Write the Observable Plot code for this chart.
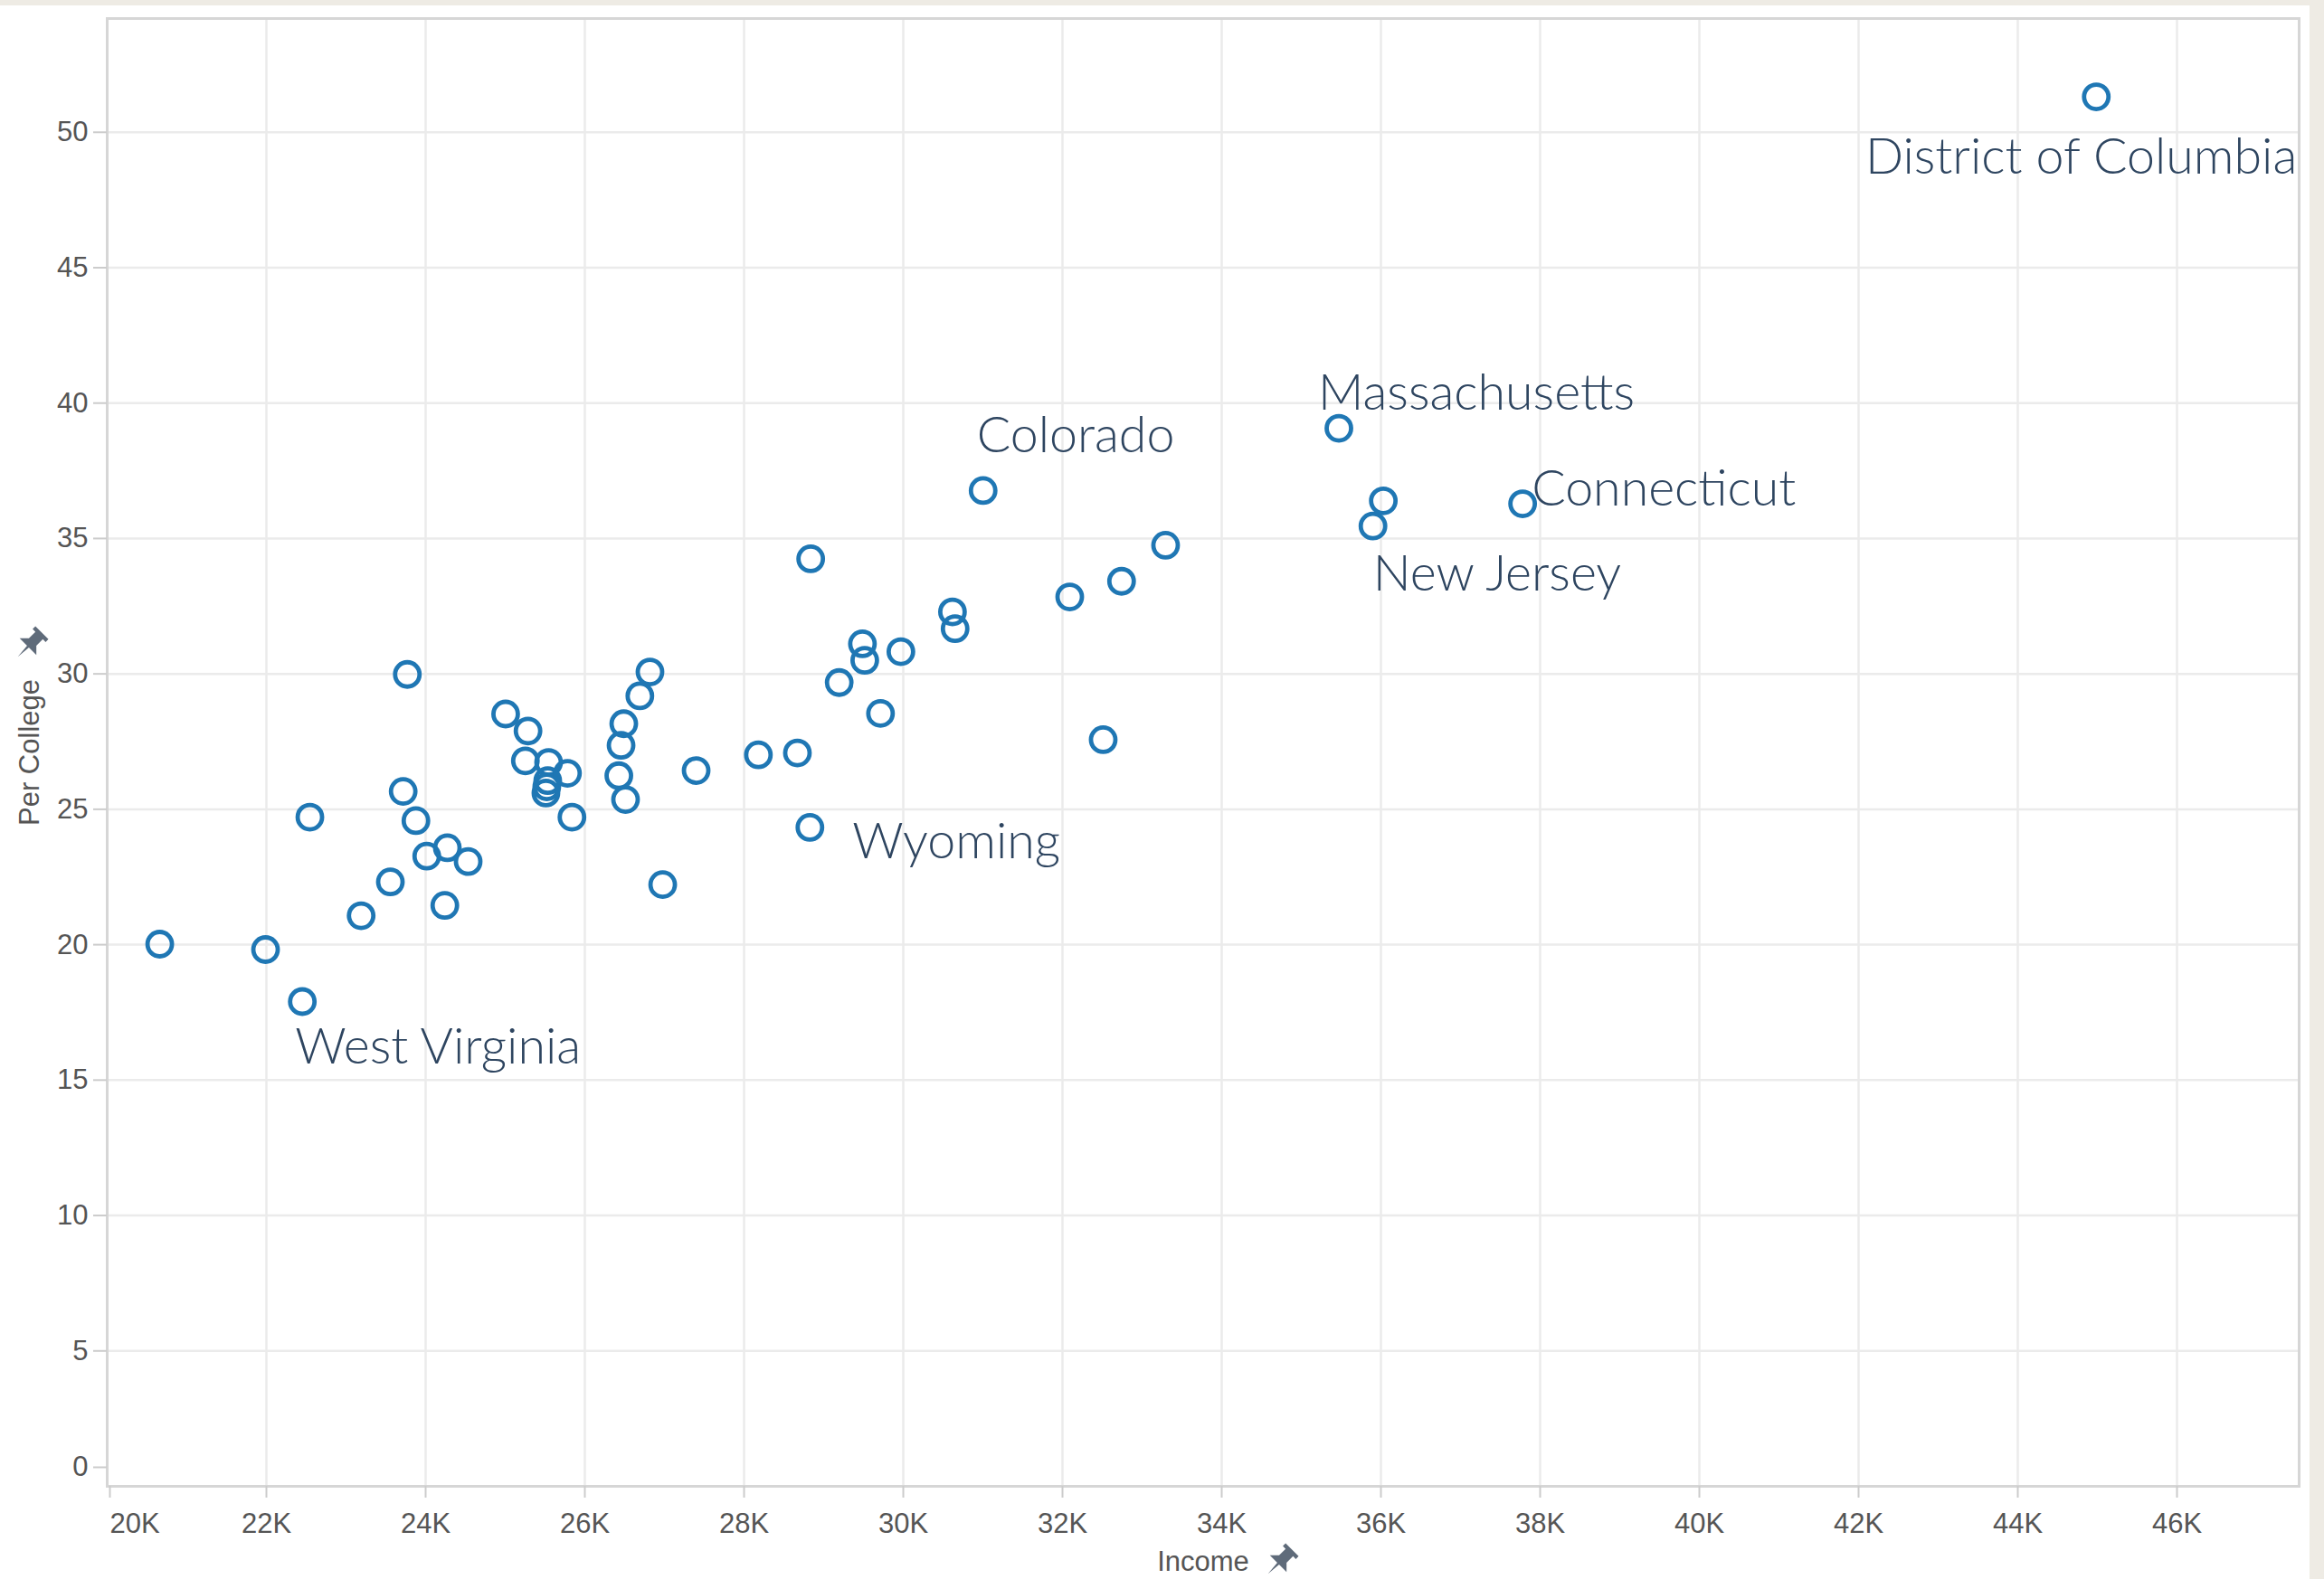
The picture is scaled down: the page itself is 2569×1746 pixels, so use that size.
<!DOCTYPE html>
<html>
<head>
<meta charset="utf-8">
<script src="https://cdn.jsdelivr.net/npm/d3@7"></script>
<script src="https://cdn.jsdelivr.net/npm/@observablehq/plot@0.6"></script>
<style>
  html, body { margin: 0; padding: 0; }
  body { width: 2569px; height: 1746px; background: #eeebe4; position: relative; overflow: hidden; }
  #panel { position: absolute; left: 0; top: 6px; width: 2553px; height: 1740px; background: #ffffff; }
</style>
</head>
<body>
<div id="panel"></div>
<script>
// ---- data ----
const income = [20660, 21989, 22451, 22546, 23190, 23557, 23718, 23770, 23878, 24014,
  24241, 24273, 24534, 25005, 25286, 25253, 25545, 25534, 25522, 25511,
  25782, 25838, 26427, 26455, 26489, 26511, 26691, 26818, 26978, 27398,
  28180, 28670, 28837, 28827, 29195, 29487, 29516, 29714, 29970, 30618,
  30651, 31003, 32091, 32511, 32742, 33295, 35472, 35900, 36030, 37780, 44986];
const college = [20.02, 19.82, 17.90, 24.71, 21.07, 22.32, 25.66, 29.98, 24.58, 23.27,
  21.45, 23.58, 23.07, 28.52, 27.89, 26.79, 26.73, 26.06, 25.83, 25.60,
  26.33, 24.71, 26.24, 27.36, 28.16, 25.36, 29.19, 30.07, 22.22, 26.43,
  27.01, 27.08, 34.25, 24.33, 29.68, 31.11, 30.50, 28.54, 30.82, 32.29,
  31.67, 36.77, 32.84, 27.57, 33.42, 34.75, 39.07, 35.46, 36.39, 36.28, 51.31];
const names = ["", "", "West Virginia", "", "", "", "", "", "", "",
  "", "", "", "", "", "", "", "", "", "",
  "", "", "", "", "", "", "", "", "", "",
  "", "", "", "Wyoming", "", "", "", "", "", "",
  "", "Colorado", "", "", "", "", "Massachusetts", "New Jersey", "", "Connecticut", "District of Columbia"];
const xTicks = [20000, 22000, 24000, 26000, 28000, 30000, 32000, 34000, 36000, 38000, 40000, 42000, 44000, 46000];
const yTicks = [0, 5, 10, 15, 20, 25, 30, 35, 40, 45, 50];
const xTitle = "Income";
const yTitle = "Per College";

const data = income.map((x, i) => ({x, y: college[i], name: names[i]}));
const fmtK = d => (d / 1000) + "K";

const tickFont = "'Liberation Sans', Arial, Helvetica, sans-serif";
const labelFont = "Lato, 'Open Sans', sans-serif";
const tickColor = "#555555";
const labelColor = "#2e4560";

function stateLabel(name, opts) {
  return Plot.text(data.filter(d => d.name === name), {
    x: "x", y: "y", text: "name",
    fontFamily: labelFont, fontSize: 55.5, fontWeight: 300, fill: labelColor,
    lineAnchor: "bottom", textAnchor: "start", ...opts
  });
}

const axisCommon = {fontSize: 31, fill: tickColor, stroke: "#cccccc", strokeWidth: 2, fontFamily: tickFont, label: null};

const chart = Plot.plot({
  width: 2553,
  height: 1740,
  marginLeft: 118,
  marginTop: 14,
  marginRight: 12,
  marginBottom: 103,
  x: {domain: [20000, 47534]},
  y: {domain: [0, 54.2]},
  style: {background: "transparent", fontFamily: tickFont},
  marks: [
    Plot.gridX(xTicks, {stroke: "#ebebeb", strokeOpacity: 1, strokeWidth: 2.5}),
    Plot.gridY(yTicks, {stroke: "#ebebeb", strokeOpacity: 1, strokeWidth: 2.5}),
    Plot.frame({stroke: "#d6d6d6", strokeWidth: 3}),
    Plot.axisX(xTicks.slice(1), {...axisCommon, tickSize: 13, tickPadding: 16, tickFormat: fmtK}),
    Plot.axisX([xTicks[0]], {...axisCommon, tickSize: 13, tickPadding: 16, tickFormat: fmtK, textAnchor: "start", dx: 3}),
    Plot.axisY(yTicks.slice(1), {...axisCommon, tickSize: 15, tickPadding: 6}),
    Plot.axisY([yTicks[0]], {...axisCommon, tickSize: 15, tickPadding: 6, dy: -21}),
    Plot.text([xTitle], {frameAnchor: "bottom", dy: 84, fontSize: 31, fill: tickColor, fontFamily: tickFont, lineAnchor: "middle", textAnchor: "middle"}),
    Plot.text([yTitle], {frameAnchor: "left", dx: -85, rotate: -90, fontSize: 31, fill: tickColor, fontFamily: tickFont, lineAnchor: "middle", textAnchor: "middle"}),
    Plot.dot(data, {x: "x", y: "y", r: 13.5, stroke: "#1f77b4", strokeWidth: 4.8, fill: "none"}),
    stateLabel("West Virginia", {dx: -8, dy: 69}),
    stateLabel("Wyoming", {dx: 47, dy: 34}),
    stateLabel("Colorado", {dx: -7, dy: -42}),
    stateLabel("Massachusetts", {dx: -23, dy: -21}),
    stateLabel("Connecticut", {dx: 10, dy: 2}),
    stateLabel("New Jersey", {dx: 0, dy: 71}),
    stateLabel("District of Columbia", {textAnchor: "end", dx: 222, dy: 85})
  ]
});

document.getElementById("panel").appendChild(chart);

// decorative pin icons next to the axis titles
const svg = d3.select(chart);
const pinPath = "M-7,-13 H7 V-10 H4 V-3 L9,2 H1 L0,13 L-1,2 H-9 L-4,-3 V-10 H-7 Z";
[[33, 707], [1415, 1721]].forEach(([px, py]) => {
  svg.append("path")
    .attr("d", pinPath)
    .attr("fill", "#5f6b7a")
    .attr("transform", `translate(${px},${py}) rotate(45) scale(1.45)`);
});
</script>
</body>
</html>
